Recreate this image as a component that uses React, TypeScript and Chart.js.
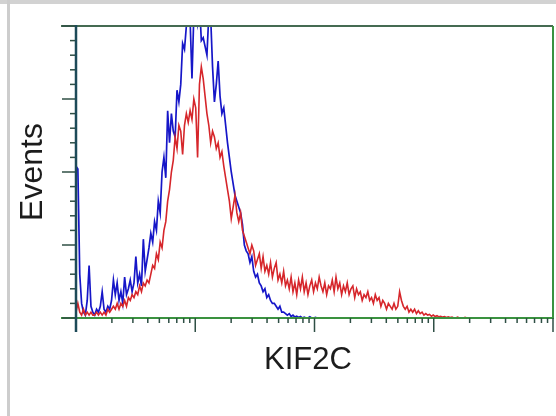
import { useEffect, useRef } from "react";
import { Chart, registerables } from "chart.js";

Chart.register(...registerables);

// Histogram: 256 channels spread across 4 log decades
const channelCount = 256;

const blueCounts: number[] = [
  52, 51, 15, 5, 2, 1, 6, 18, 4, 2,
  1, 3, 2, 4, 9, 3, 2, 4, 3, 6,
  13, 8, 12, 6, 9, 5, 14, 8, 10, 13,
  9, 12, 21, 12, 15, 11, 27, 16, 20, 24,
  29, 26, 33, 30, 40, 36, 50, 55, 48, 71,
  60, 70, 64, 62, 78, 74, 80, 94, 92, 100,
  105, 102, 82, 104, 106, 101, 108, 95, 96, 93,
  90, 104, 103, 86, 74, 80, 88, 76, 70, 72,
  66, 60, 55, 50, 46, 42, 40, 38, 36, 32,
  25, 23, 22, 19, 21, 16, 14, 15, 12, 11,
  9, 10, 7, 8, 6, 5, 5, 4, 3, 4,
  2, 2, 1.5, 1, 1.5, 0.5, 1, 0.3, 0.6, 0.2,
  0.5, 0, 0.3, 0, 0, 0.4, 0, 0, 0.2, 0,
  0, 0, 0, 0, 0, 0, 0, 0, 0, 0,
];

const redCounts: number[] = [
  2, 5, 2, 1, 3, 1, 2, 1, 2, 1,
  1, 2, 1, 2, 1, 2, 1, 3, 2, 3,
  4, 3, 5, 3, 5, 4, 6, 4, 7, 6,
  8, 7, 9, 8, 11, 9, 12, 11, 13, 12,
  15, 18, 17, 22, 20, 26, 24, 30, 33, 40,
  44, 50, 54, 62, 58, 66, 64, 56, 66, 70,
  67, 71, 68, 75, 72, 55, 80, 86, 82, 76,
  70, 66, 60, 64, 62, 58, 60, 55, 57, 52,
  48, 44, 40, 34, 38, 42, 36, 33, 36, 30,
  28, 26, 24, 22, 25, 23, 18, 20, 22, 17,
  21, 16, 18, 15, 19, 14, 17, 19, 13, 15,
  12, 16, 11, 13, 10, 14, 9, 12, 8, 13,
  10, 14, 9, 12, 8, 11, 13, 9, 12, 10,
  14, 11, 9, 12, 8, 11, 10, 13, 9, 14,
  10, 12, 8, 11, 9, 12, 8, 10, 11, 7,
  10, 8, 9, 6, 8, 7, 9, 6, 7, 5,
  8, 6, 7, 4, 6, 5, 3, 5, 4, 3,
  5, 3, 4, 9, 6, 4, 3, 4, 2, 3,
  2, 3, 1.5, 2.5, 1.5, 2, 1, 1.5, 1, 1.2,
  0.6, 1, 0.5, 0.8, 0.4, 0.6, 0.3, 0.5, 0.2, 0.4,
  0.2, 0.3, 0, 0, 0.3, 0, 0, 0, 0.2, 0,
  0, 0, 0, 0, 0, 0, 0, 0, 0, 0,
];

// Log-scale tick positions (decades with 2..9 minor ticks)
const xTickValues: number[] = [
  1, 2, 3, 4, 5, 6, 7, 8, 9,
  10, 20, 30, 40, 50, 60, 70, 80, 90,
  100, 200, 300, 400, 500, 600, 700, 800, 900,
  1000, 2000, 3000, 4000, 5000, 6000, 7000, 8000, 9000,
  10000,
];
const xMajorTicks: number[] = [1, 10, 100, 1000, 10000];

const yTickValues: number[] = [
  0, 5, 10, 15, 20, 25, 30, 35, 40, 45, 50,
  55, 60, 65, 70, 75, 80, 85, 90, 95, 100,
];
const yMajorTicks: number[] = [0, 25, 50, 75, 100];

const xAxisLabel = "KIF2C";
const yAxisLabel = "Events";

const framePlugin = {
  id: "flowFrame",
  afterDatasetsDraw(chart: any) {
    const { ctx, chartArea } = chart;
    const { left, right, top, bottom } = chartArea;
    const xlog = chart.scales.xlog;
    const y = chart.scales.y;
    ctx.save();

    // top line
    ctx.strokeStyle = "#456b52";
    ctx.lineWidth = 2;
    ctx.beginPath();
    ctx.moveTo(61, top);
    ctx.lineTo(right, top);
    ctx.stroke();

    // bottom line
    ctx.strokeStyle = "#3a923f";
    ctx.beginPath();
    ctx.moveTo(61, bottom);
    ctx.lineTo(right + 1, bottom);
    ctx.stroke();

    // right line
    ctx.beginPath();
    ctx.moveTo(right, top);
    ctx.lineTo(right, bottom);
    ctx.stroke();

    // x ticks
    ctx.strokeStyle = "#2f4f45";
    ctx.lineWidth = 1.5;
    for (const v of xTickValues) {
      const px = xlog.getPixelForValue(v);
      const major = xMajorTicks.includes(v);
      ctx.beginPath();
      ctx.moveTo(px, bottom);
      ctx.lineTo(px, bottom + (major ? 14 : 5));
      ctx.stroke();
    }

    // y ticks
    for (const v of yTickValues) {
      const py = y.getPixelForValue(v);
      const major = yMajorTicks.includes(v);
      ctx.beginPath();
      ctx.moveTo(left, py);
      ctx.lineTo(left - (major ? 14 : 6), py);
      ctx.stroke();
    }

    // left axis
    ctx.strokeStyle = "#1d4a58";
    ctx.lineWidth = 2.5;
    ctx.beginPath();
    ctx.moveTo(left, top - 1);
    ctx.lineTo(left, bottom + 14);
    ctx.stroke();

    // titles
    ctx.fillStyle = "#1c1c1c";
    ctx.font = '31px "Liberation Sans", Arial, sans-serif';
    ctx.textAlign = "center";
    ctx.textBaseline = "alphabetic";
    ctx.fillText(xAxisLabel, 308, 369);

    ctx.translate(42, 172);
    ctx.rotate(-Math.PI / 2);
    ctx.font = '32px "Liberation Sans", Arial, sans-serif';
    ctx.fillText(yAxisLabel, 0, 0);
    ctx.restore();
  },
};

export default function App() {
  const canvasRef = useRef<HTMLCanvasElement | null>(null);

  useEffect(() => {
    if (!canvasRef.current) return;
    const chart = new Chart(canvasRef.current, {
      type: "line",
      data: {
        datasets: [
          {
            label: "KIF2C",
            data: redCounts.map((v, i) => ({ x: i, y: v })),
            borderColor: "#d6262b",
            borderWidth: 1.6,
            pointRadius: 0,
            tension: 0,
            fill: false,
          },
          {
            label: "Control",
            data: blueCounts.map((v, i) => ({ x: i, y: v })),
            borderColor: "#1616c8",
            borderWidth: 1.7,
            pointRadius: 0,
            tension: 0,
            fill: false,
          },
        ],
      },
      options: {
        responsive: false,
        animation: false,
        devicePixelRatio: 1,
        layout: { padding: { left: 76, top: 26, right: 3, bottom: 98 } },
        plugins: {
          legend: { display: false },
          tooltip: { enabled: false },
        },
        scales: {
          x: {
            type: "linear",
            display: false,
            min: 0,
            max: channelCount - 1,
          },
          xlog: {
            type: "logarithmic",
            display: false,
            position: "bottom",
            min: xMajorTicks[0],
            max: xMajorTicks[xMajorTicks.length - 1],
          },
          y: {
            type: "linear",
            display: false,
            min: yTickValues[0],
            max: yTickValues[yTickValues.length - 1],
          },
        },
      },
      plugins: [framePlugin],
    });
    return () => chart.destroy();
  }, []);

  return (
    <div
      style={{
        position: "fixed",
        left: 0,
        top: 0,
        width: 556,
        height: 416,
        background: "#ffffff",
        overflow: "hidden",
      }}
    >
      <div style={{ position: "absolute", left: 0, top: 0, width: 556, height: 4, background: "#d2d2d2" }} />
      <div style={{ position: "absolute", left: 7, top: 0, width: 3, height: 416, background: "#cdcdcd" }} />
      <canvas
        ref={canvasRef}
        width={556}
        height={416}
        style={{ position: "absolute", left: 0, top: 0, width: 556, height: 416 }}
      />
    </div>
  );
}
